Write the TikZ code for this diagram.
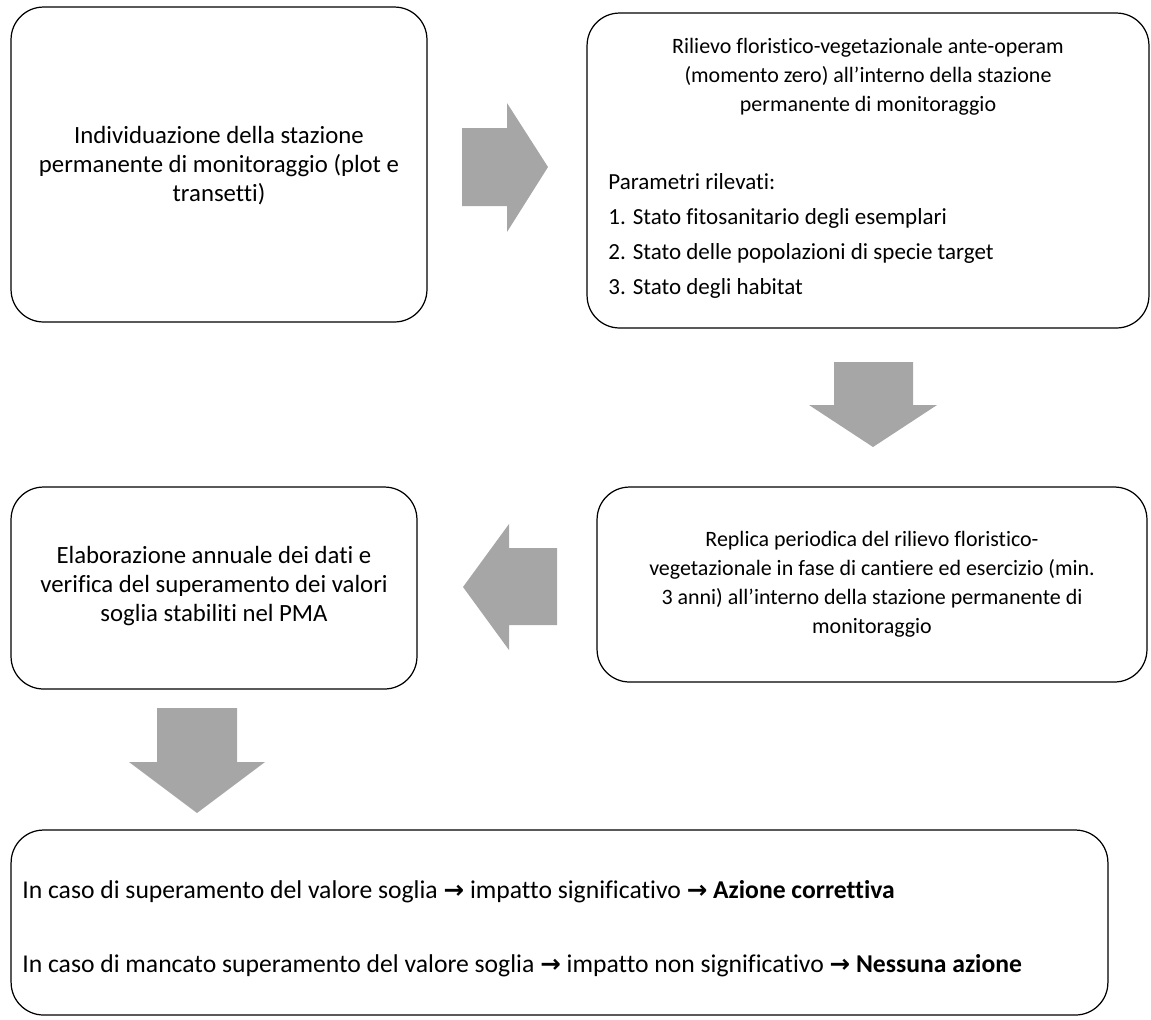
\documentclass[tikz,border=0pt]{standalone}
\usepackage{fontspec}
\setmainfont{Carlito}[Ligatures=CommonOff]
\newfontfamily\arrfont{DejaVu Sans}
\newcommand{\myarr}{{\arrfont\bfseries\fontsize{14}{14}\selectfont →}}
\definecolor{arrowgray}{RGB}{166,166,166}
\tikzset{
  box/.style={draw=black, line width=0.7pt, rounded corners=0.65cm, inner sep=0pt},
  txt/.style={font=\fontsize{12.5}{16.5}\selectfont, align=center, inner sep=0pt},
  ltxt/.style={font=\fontsize{13.1}{16.5}\selectfont, anchor=west, inner sep=0pt},
  btxt/.style={font=\fontsize{14.6}{16.5}\selectfont, anchor=west, inner sep=0pt},
  bigtxt/.style={font=\fontsize{14.1}{16.5}\selectfont, align=center, inner sep=0pt},
  blockarrow/.style={fill=arrowgray, draw=none}
}
\begin{document}
\begin{tikzpicture}[x=0.02cm, y=-0.02cm]
\useasboundingbox (0,0) rectangle (1151,1019);
% boxes
\node[box, minimum width=8.32cm, minimum height=6.3cm] (b1) at (219,164.5) {};
\node[box, minimum width=11.24cm, minimum height=6.3cm] (b2) at (868,170.5) {};
\node[box, minimum width=8.12cm, minimum height=4.04cm] (b3) at (214,588) {};
\node[box, minimum width=11.0cm, minimum height=3.9cm] (b4) at (872,584.5) {};
\node[box, minimum width=21.94cm, minimum height=3.7cm] (b5) at (559.5,922.5) {};
% texts
\node[bigtxt] (t1) at (219,166) {Individuazione della stazione\\permanente di monitoraggio (plot e\\transetti)};
\node[txt] (t2) at (868,77) {Rilievo floristico-vegetazionale ante-operam\\(momento zero) all’interno della stazione\\permanente di monitoraggio};
\node[ltxt] (p0) at (608,182) {Parametri rilevati:};
\node[ltxt] (p1) at (608,218) {1. Stato fitosanitario degli esemplari};
\node[ltxt] (p2) at (608,253) {2. Stato delle popolazioni di specie target};
\node[ltxt] (p3) at (608,288) {3. Stato degli habitat};
\node[bigtxt] (t3) at (214,586) {Elaborazione annuale dei dati e\\verifica del superamento dei valori\\soglia stabiliti nel PMA};
\node[txt] (t4) at (872,584.5) {Replica periodica del rilievo floristico-\\vegetazionale in fase di cantiere ed esercizio (min.\\3 anni) all’interno della stazione permanente di\\monitoraggio};
\node[btxt] (l1) at (22,892) {In caso di superamento del valore soglia \myarr{} impatto significativo \myarr{} \textbf{Azione correttiva}};
\node[btxt] (l2) at (22,966) {In caso di mancato superamento del valore soglia \myarr{} impatto non significativo \myarr{} \textbf{Nessuna azione}};
% block arrows
\fill[blockarrow] (462,128) -- (507,128) -- (507,103) -- (548,167) -- (507,232) -- (507,206) -- (462,206) -- cycle;
\fill[blockarrow] (834,362) -- (913,362) -- (913,405) -- (937,405) -- (873,447) -- (809,405) -- (834,405) -- cycle;
\fill[blockarrow] (557,548) -- (509,548) -- (509,524) -- (463,587) -- (509,650) -- (509,625) -- (557,625) -- cycle;
\fill[blockarrow] (157,708) -- (237,708) -- (237,762) -- (265,762) -- (197,813) -- (129,762) -- (157,762) -- cycle;
\end{tikzpicture}
\end{document}
